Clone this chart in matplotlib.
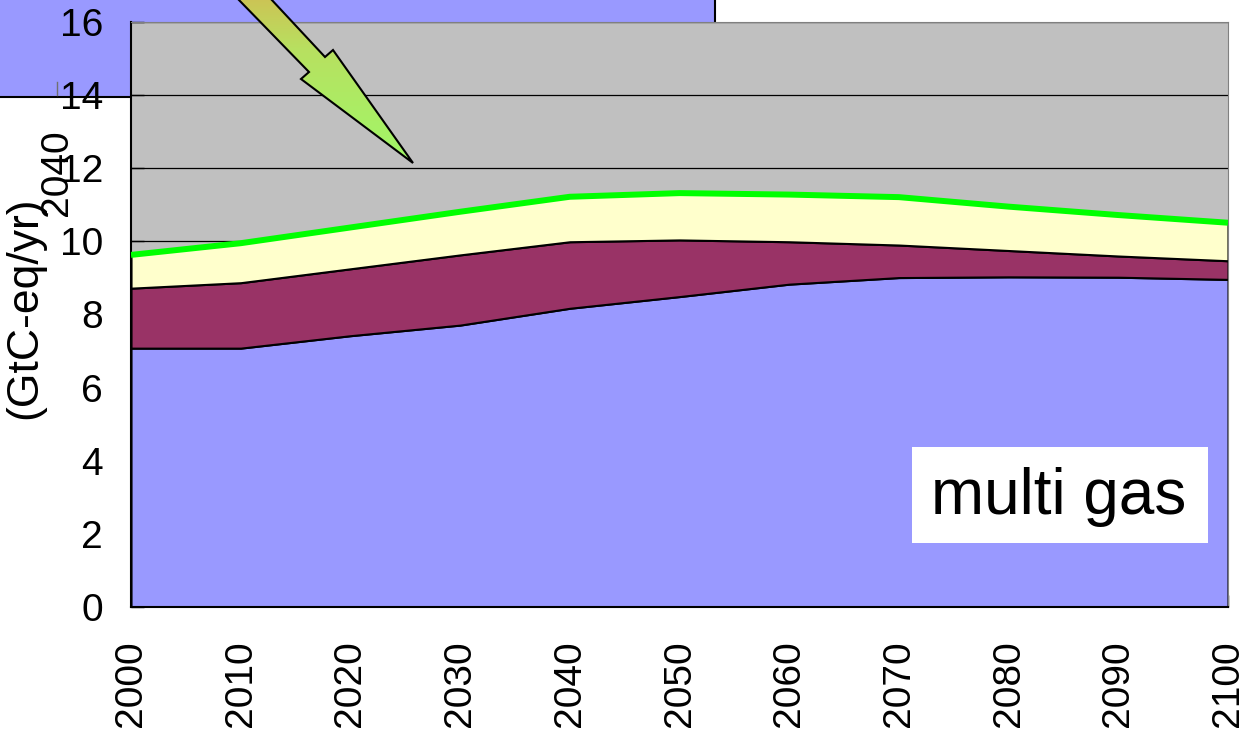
import matplotlib
matplotlib.use("Agg")
import matplotlib.pyplot as plt
import matplotlib.patches as patches
from matplotlib.path import Path
import numpy as np

plt.rcParams['font.family'] = ['Liberation Sans', 'DejaVu Sans']

# years and upper edge of each stacked band (GtC-eq/yr)
years = [2000, 2010, 2020, 2030, 2040, 2050, 2060, 2070, 2080, 2090, 2100]
blueTop = [7.08, 7.08, 7.42, 7.71, 8.17, 8.49, 8.83, 9.01, 9.03, 9.02, 8.96]
purpleTop = [8.72, 8.87, 9.25, 9.63, 9.99, 10.04, 9.99, 9.90, 9.75, 9.60, 9.47]
greenTop = [9.63, 9.95, 10.38, 10.81, 11.22, 11.32, 11.28, 11.21, 10.95, 10.72, 10.51]
yTicks = [0, 2, 4, 6, 8, 10, 12, 14, 16]

W, H = 1246, 731
fig = plt.figure(figsize=(W / 100, H / 100), dpi=100)

# background layer: the blue box behind the top left of the chart
bg = fig.add_axes([0, 0, 1, 1], zorder=0)
bg.set_xlim(0, W)
bg.set_ylim(H, 0)
bg.axis("off")
bg.add_patch(patches.Rectangle((-5, -5), 720, 102, facecolor="#9999FF",
                               edgecolor="black", linewidth=1.5))
bg.plot([57, 57], [82, 95], color="#707070", linewidth=1)

# main chart
ax = fig.add_axes([131 / W, (H - 607) / H, 1097 / W, 585 / H], zorder=1)
ax.set_facecolor("#C0C0C0")
x = np.array(years)
ax.fill_between(x, 0, blueTop, facecolor="#9999FF", edgecolor="black", linewidth=1.5, zorder=2)
ax.fill_between(x, blueTop, purpleTop, facecolor="#993366", edgecolor="black", linewidth=1.5, zorder=2)
ax.fill_between(x, purpleTop, greenTop, facecolor="#FFFFCC", edgecolor="black", linewidth=1.5, zorder=2)
ax.plot(x, greenTop, color="#00FF00", linewidth=4.3, zorder=3, solid_capstyle="butt")

ax.set_xlim(2000, 2100)
ax.set_ylim(0, 16)
ax.set_xticks(years)
ax.set_yticks(yTicks)
ax.yaxis.grid(True, color="black", linewidth=0.9)
ax.set_axisbelow(True)
ax.tick_params(axis="x", direction="in", length=9, width=1, labelsize=28, pad=24,
               labelrotation=90)
ax.tick_params(axis="y", direction="in", length=9, width=1, labelsize=28, pad=20)
for s in ["top", "right"]:
    ax.spines[s].set_color("#808080")
for s in ["left", "bottom"]:
    ax.spines[s].set_linewidth(1.5)

# overlay layer: axis title, stray label, label box and the arrow
ov = fig.add_axes([0, 0, 1, 1], zorder=2)
ov.set_xlim(0, W)
ov.set_ylim(H, 0)
ov.axis("off")
ov.patch.set_visible(False)
ov.text(25, 308, "(GtC-eq/yr)", rotation=90, fontsize=32, ha="center", va="center")
ov.text(57, 173, "2040", rotation=90, fontsize=28, ha="center", va="center")

ov.add_patch(patches.Rectangle((912, 447), 296, 96, facecolor="white", edgecolor="none"))
ov.text(1059, 497, "multi gas", fontsize=46, ha="center", va="center")

verts = [(237, -2), (270, -2), (325, 57), (333, 50), (413, 163), (301, 79), (309, 72), (237, -2)]
codes = [Path.MOVETO] + [Path.LINETO] * 6 + [Path.CLOSEPOLY]
arrow = patches.PathPatch(Path(verts, codes), facecolor="none", edgecolor="black",
                          linewidth=1.5, zorder=4)
ov.add_patch(arrow)
grad = np.linspace(0, 1, 200).reshape(-1, 1)
cmap = matplotlib.colors.LinearSegmentedColormap.from_list(
    "arr", [(0, "#CCC455"), (0.3, "#B8E060"), (1, "#A0F868")])
img = ov.imshow(grad, cmap=cmap, extent=(230, 420, 165, -2), aspect="auto", zorder=3)
img.set_clip_path(arrow)
ov.set_xlim(0, W)
ov.set_ylim(H, 0)

fig.savefig("out.png", dpi=100)
